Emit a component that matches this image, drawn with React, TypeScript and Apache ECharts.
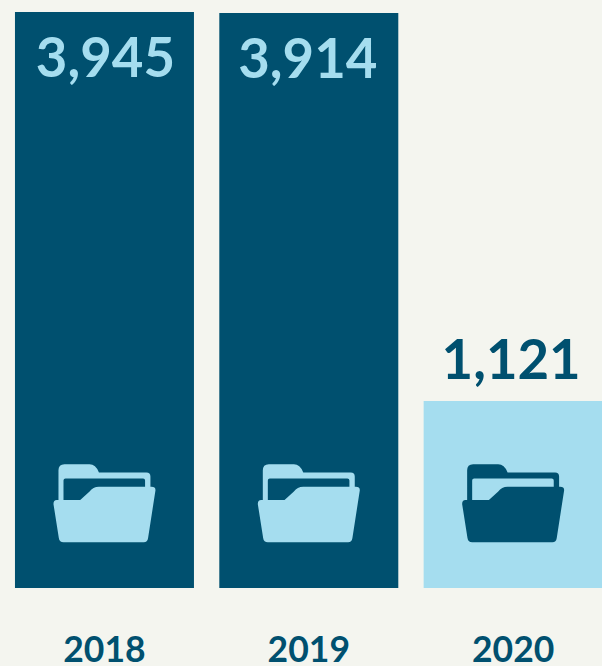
import React, { useEffect, useRef } from "react";
import * as echarts from "echarts";

const categories = ["2018", "2019", "2020"];
// Figures printed on the chart.
const printedValues = ["3,945", "3,914", "1,121"];
// Bar lengths (the reference does not draw them strictly to scale).
const barLengths = [3945, 3938, 1281];
const iconLevels = [580, 580, 580];

const DARK = "#00506F";
const LIGHT = "#A5DDEF";
const PAPER = "#F4F5EF";
const barColors = [DARK, DARK, LIGHT];
const iconColors = [LIGHT, LIGHT, DARK];
const labelColors = [LIGHT, LIGHT, DARK];
const labelInside = [true, true, false];
const labelNudge = [1, -1, -2];

const FOLDER =
  "path://M57 62Q57 44 75 44L150 44Q168 44 178 68L320 68Q332 68 332 80L332 160L57 160Z" +
  "M72 92L72 160L316 160L316 92Q316 86 310 86L78 86Q72 86 72 92Z" +
  "M52 150L122 150L150 125Q160 111 178 111L335 111Q348 111 347 122L325 263Q323 276 312 276L72 276Q60 276 58 263L42 162Q42 150 52 150Z";

export default function App() {
  const ref = useRef<HTMLDivElement>(null);
  useEffect(() => {
    const chart = echarts.init(ref.current!, null, { renderer: "svg" });
    chart.setOption({
      animation: false,
      backgroundColor: PAPER,
      grid: { left: 2.3, top: 0, width: 613, height: 588, outerBoundsMode: "none" },
      xAxis: {
        type: "category",
        data: categories,
        axisLine: { show: false },
        axisTick: { show: false },
        axisLabel: {
          margin: 45,
          lineHeight: 30,
          color: DARK,
          fontFamily: "Lato",
          fontWeight: "bold",
          fontSize: 35.5,
          interval: 0,
        },
      },
      yAxis: { type: "value", min: 0, max: 4027, show: false },
      series: [
        {
          type: "bar",
          barWidth: 179,
          silent: true,
          data: barLengths.map((v, i) => ({
            value: v,
            itemStyle: { color: barColors[i] },
            label: {
              show: true,
              position: labelInside[i] ? "insideTop" : "top",
              distance: labelInside[i] ? 17 : 15,
              offset: [labelNudge[i], 0],
              formatter: printedValues[i],
              color: labelColors[i],
              fontFamily: "Lato",
              fontWeight: "bold",
              fontSize: 54.5,
            },
          })),
        },
        {
          type: "scatter",
          silent: true,
          z: 5,
          symbol: FOLDER,
          symbolSize: [102, 78],
          symbolKeepAspect: false,
          data: iconLevels.map((v, i) => ({
            value: [i, v],
            itemStyle: { color: iconColors[i], opacity: 1 },
          })),
        },
      ],
    });
    return () => chart.dispose();
  }, []);
  return (
    <div
      ref={ref}
      style={{ position: "absolute", left: 0, top: 0, width: 602, height: 666 }}
    />
  );
}
